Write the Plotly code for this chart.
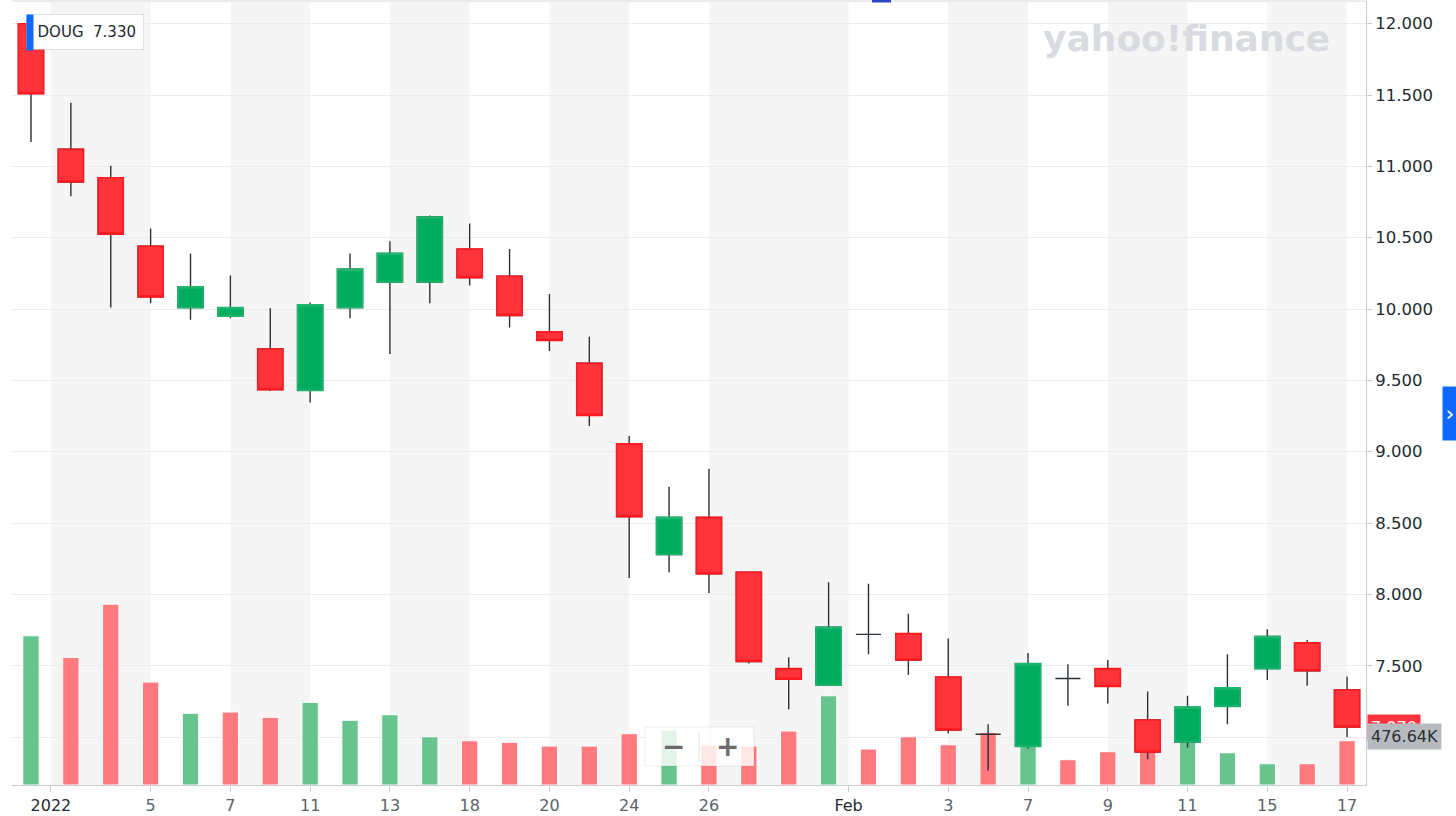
import plotly.graph_objects as go

# ---------------- data ----------------
symbol = "DOUG"
legend_price = 7.330

dates = ["2021-12-31", "2022-01-03", "2022-01-04", "2022-01-05", "2022-01-06",
         "2022-01-07", "2022-01-10", "2022-01-11", "2022-01-12", "2022-01-13",
         "2022-01-14", "2022-01-18", "2022-01-19", "2022-01-20", "2022-01-21",
         "2022-01-24", "2022-01-25", "2022-01-26", "2022-01-27", "2022-01-28",
         "2022-01-31", "2022-02-01", "2022-02-02", "2022-02-03", "2022-02-04",
         "2022-02-07", "2022-02-08", "2022-02-09", "2022-02-10", "2022-02-11",
         "2022-02-14", "2022-02-15", "2022-02-16", "2022-02-17"]

open_ = [12.00, 11.12, 10.92, 10.44, 10.01, 9.95, 9.72, 9.43, 10.01, 10.19,
         10.19, 10.42, 10.23, 9.84, 9.62, 9.055, 8.28, 8.54, 8.155, 7.48,
         7.365, 7.72, 7.725, 7.42, 7.02, 6.935, 7.41, 7.48, 7.12, 6.965,
         7.215, 7.48, 7.66, 7.33]

high = [12.00, 11.445, 11.005, 10.565, 10.39, 10.235, 10.005, 10.045, 10.39, 10.475,
        10.655, 10.60, 10.42, 10.105, 9.805, 9.11, 8.755, 8.88, 8.155, 7.56,
        8.085, 8.075, 7.865, 7.69, 7.09, 7.59, 7.51, 7.54, 7.32, 7.29,
        7.58, 7.755, 7.68, 7.425]

low = [11.17, 10.79, 10.01, 10.04, 9.925, 9.935, 9.425, 9.345, 9.935, 9.685,
       10.04, 10.165, 9.87, 9.705, 9.18, 8.115, 8.155, 8.01, 7.515, 7.195,
       7.36, 7.58, 7.435, 7.025, 6.765, 6.92, 7.22, 7.235, 6.845, 6.925,
       7.09, 7.40, 7.36, 7.00]

close = [11.51, 10.89, 10.525, 10.085, 10.155, 10.01, 9.435, 10.03, 10.28, 10.39,
         10.645, 10.22, 9.955, 9.78, 9.255, 8.545, 8.54, 8.145, 7.53, 7.405,
         7.77, 7.72, 7.54, 7.05, 7.02, 7.515, 7.41, 7.355, 6.895, 7.21,
         7.345, 7.705, 7.465, 7.07]

volume = [1605000, 1373000, 1946000, 1108000, 771000, 785000, 728000, 889000, 696000, 756000,
          519000, 476000, 459000, 419000, 419000, 552000, 591000, 430000, 419000, 581000,
          960000, 387000, 519000, 433000, 567000, 513000, 272000, 358000, 600000, 466000,
          347000, 229000, 229000, 476640]

# volume colour as shown in the picture (close vs previous close)
volume_up = [True, False, False, False, True, False, False, True, True, True,
             True, False, False, False, False, False, True, False, False, False,
             True, False, False, False, False, True, False, False, False, True,
             True, True, False, False]

tick_pos = [0.5, 3, 5, 7, 9, 11, 13, 15, 17, 20.5, 23, 25, 27, 29, 31, 33]
tick_text = ["2022", "5", "7", "11", "13", "18", "20", "24", "26", "Feb",
             "3", "7", "9", "11", "15", "17"]
major_ticks = ["2022", "Feb"]

price_ticks = [7.0, 7.5, 8.0, 8.5, 9.0, 9.5, 10.0, 10.5, 11.0, 11.5, 12.0]

# ---------------- styling ----------------
W, H = 1456, 816
L, R, T, B = 12, 90, 1, 31
PW, PH = W - L - R, H - T - B

GREEN = "#00ad5e"
GREEN_LINE = "#1fb56f"
RED = "#ff333a"
RED_LINE = "#ff1a22"
WICK = "#2c3238"
VOL_GREEN = "#68c48e"
VOL_RED = "#ff7a7e"
AXIS = "#c9cdd2"
FONT = "DejaVu Sans"


def px(xp):
    return (xp - L) / PW


def py(yp):
    return (H - B - yp) / PH


x = list(range(len(dates)))

fig = go.Figure()

# volume bars (base axis, drawn underneath)
fig.add_trace(go.Bar(
    x=x, y=volume, width=0.41, yaxis="y",
    marker=dict(color=[VOL_GREEN if u else VOL_RED for u in volume_up],
                line=dict(color="white", width=1)),
    hoverinfo="skip",
))

# wicks (and doji crosses) in dark
fig.add_trace(go.Candlestick(
    x=x, open=open_, high=high, low=low, close=close, yaxis="y2",
    increasing=dict(line=dict(color=WICK, width=1.4), fillcolor="white"),
    decreasing=dict(line=dict(color=WICK, width=1.4), fillcolor="white"),
    whiskerwidth=0, hoverinfo="skip",
))

# coloured bodies (non-doji candles only)
body_idx = [i for i in x if open_[i] != close[i]]
fig.add_trace(go.Candlestick(
    x=[x[i] for i in body_idx],
    open=[open_[i] for i in body_idx],
    high=[max(open_[i], close[i]) for i in body_idx],
    low=[min(open_[i], close[i]) for i in body_idx],
    close=[close[i] for i in body_idx],
    yaxis="y2",
    increasing=dict(line=dict(color=GREEN_LINE, width=1.6), fillcolor=GREEN),
    decreasing=dict(line=dict(color=RED_LINE, width=1.6), fillcolor=RED),
    whiskerwidth=0, hoverinfo="skip",
))

ticktext = [
    f'<span style="color:#232a31">{t}</span>' if t in major_ticks else t
    for t in tick_text
]

shapes = []
# alternating shaded bands between tick labels
for k in range(0, len(tick_pos) - 1, 2):
    shapes.append(dict(type="rect", xref="x", yref="paper",
                       x0=tick_pos[k], x1=tick_pos[k + 1], y0=0, y1=1,
                       fillcolor="#f5f5f5", line=dict(width=0), layer="below"))
# top border
shapes.append(dict(type="line", xref="paper", yref="paper", x0=0, x1=1, y0=1, y1=1,
                   line=dict(color="#e2e4e7", width=1.5), layer="above"))
# small blue mark at the top
shapes.append(dict(type="rect", xref="paper", yref="paper",
                   x0=px(872), x1=px(891), y0=py(2.5), y1=py(0),
                   fillcolor="#2a45c8", line=dict(width=0), layer="above"))
# zoom control box
shapes.append(dict(type="rect", xref="paper", yref="paper",
                   x0=px(645), x1=px(754), y0=py(766), y1=py(727),
                   fillcolor="rgba(255,255,255,0.82)",
                   line=dict(color="rgba(0,0,0,0.07)", width=1), layer="above"))
shapes.append(dict(type="line", xref="paper", yref="paper",
                   x0=px(699), x1=px(699), y0=py(762), y1=py(732),
                   line=dict(color="rgba(0,0,0,0.12)", width=1), layer="above"))

annotations = [
    # symbol chip
    dict(xref="paper", yref="paper", x=px(26), y=py(32), xanchor="left", yanchor="middle",
         text=f"{symbol}&nbsp;&nbsp;{legend_price:.3f}", showarrow=False, align="right",
         width=102, height=20, borderpad=7, bgcolor="white",
         bordercolor="rgba(0,0,0,0.10)", borderwidth=1,
         font=dict(family=FONT, size=15, color="#232a31")),
    dict(xref="paper", yref="paper", x=px(26), y=py(32), xanchor="left", yanchor="middle",
         text=" ", showarrow=False, width=6, height=35, borderpad=0,
         bgcolor="#0f69ff", font=dict(size=4)),
    # watermark
    dict(xref="paper", yref="paper", x=px(1186), y=py(38), xanchor="center", yanchor="middle",
         text="<b>yahoo!finance</b>", showarrow=False,
         font=dict(family=FONT, size=36, color="#d9dbe0")),
    # zoom control glyphs
    dict(xref="paper", yref="paper", x=px(673), y=py(746), xanchor="center", yanchor="middle",
         text="<b>−</b>", showarrow=False, font=dict(family=FONT, size=28, color="#6b6b6b")),
    dict(xref="paper", yref="paper", x=px(727), y=py(746), xanchor="center", yanchor="middle",
         text="<b>+</b>", showarrow=False, font=dict(family=FONT, size=28, color="#6b6b6b")),
    # side button
    dict(xref="paper", yref="paper", x=px(1442), y=py(413.5), xanchor="left", yanchor="middle",
         text="›", showarrow=False, width=14, height=53, borderpad=0,
         bgcolor="#0f69ff", font=dict(family=FONT, size=22, color="white")),
    # last price label
    dict(xref="paper", yref="y2", x=1, y=close[-1], xanchor="left", yanchor="middle",
         xshift=1, text=f"{close[-1]:.3f}", showarrow=False, borderpad=3,
         bgcolor=RED, font=dict(family=FONT, size=16, color="white")),
    # last volume label
    dict(xref="paper", yref="y", x=1, y=volume[-1], xanchor="left", yanchor="middle",
         xshift=1, yshift=4, text=f"{volume[-1] / 1000:.2f}K", showarrow=False, borderpad=3,
         bgcolor="#b7bbc0", font=dict(family=FONT, size=16, color="#2b2f33")),
]

fig.update_layout(
    width=W, height=H,
    margin=dict(l=L, r=R, t=T, b=B),
    paper_bgcolor="white", plot_bgcolor="white",
    showlegend=False, hovermode=False,
    boxgap=0.37, boxgroupgap=0,
    font=dict(family=FONT, color="#232a31"),
    xaxis=dict(range=[-0.476, 33.475], tickmode="array", tickvals=tick_pos, ticktext=ticktext,
               ticks="outside", ticklen=6, tickcolor=AXIS, showline=True, linecolor=AXIS,
               showgrid=False, zeroline=False, fixedrange=True,
               tickfont=dict(family=FONT, size=16, color="#5b636a"),
               rangeslider=dict(visible=False)),
    yaxis=dict(range=[0, 8.435e6], visible=False, fixedrange=True),
    yaxis2=dict(overlaying="y", side="right", anchor="x", range=[6.664, 12.159],
                tickmode="array", tickvals=price_ticks,
                ticktext=[f"{v:.3f}" for v in price_ticks],
                ticks="outside", ticklen=5, tickcolor=AXIS, showline=True, linecolor=AXIS,
                showgrid=True, gridcolor="#ececec", gridwidth=1, zeroline=False,
                fixedrange=True, tickfont=dict(family=FONT, size=16.5, color="#232a31")),
    shapes=shapes,
    annotations=annotations,
)

fig.write_html(
    "out.html",
    config={"displayModeBar": False},
    post_script="document.body.style.margin='0px';document.body.style.overflow='hidden';",
)
